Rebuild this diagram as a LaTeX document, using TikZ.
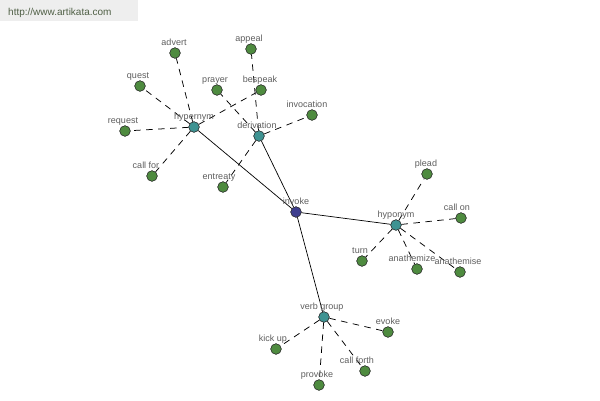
\documentclass[tikz,border=0pt]{standalone}
\usepackage{fontspec}
\setmainfont{Liberation Sans}
\begin{document}
\begin{tikzpicture}[x=1pt,y=-1pt,
  leaf/.style={circle,draw=black!80,fill=leafgreen,line width=0.5pt,minimum size=10.5pt,inner sep=0pt},
  hub/.style={circle,draw=black!80,fill=hubteal,line width=0.5pt,minimum size=10.5pt,inner sep=0pt},
  root/.style={circle,draw=black!80,fill=rootblue,line width=0.5pt,minimum size=10.5pt,inner sep=0pt},
  lbl/.style={anchor=base,inner sep=0pt,text=labelgray,font=\fontsize{9}{10}\selectfont},
  solidedge/.style={draw=black,line width=0.7pt},
  dashedge/.style={draw=black,line width=0.75pt,dash pattern=on 6.5pt off 5.5pt}]
\definecolor{leafgreen}{HTML}{4E8B3F}
\definecolor{hubteal}{HTML}{3E9392}
\definecolor{rootblue}{HTML}{3D3D8E}
\definecolor{labelgray}{HTML}{5E5E5E}
\definecolor{wmgray}{HTML}{EEEEEE}
\definecolor{wmtext}{HTML}{4F5F45}
\useasboundingbox (0,0) rectangle (600,400);
\fill[white] (0,0) rectangle (600,400);
\fill[wmgray] (0,0) rectangle (138,21);
\node[anchor=base west,inner sep=0pt,text=wmtext,font=\fontsize{10}{12}\selectfont] (wm) at (8,15) {http://www.artikata.com};

% nodes
\node[root] (invoke) at (296,212) {};
\node[hub] (hyper) at (194,127) {};
\node[hub] (deriv) at (259,136) {};
\node[hub] (hypo) at (396,225) {};
\node[hub] (vg) at (324,317) {};

\node[leaf] (advert) at (175,53) {};
\node[leaf] (appeal) at (251,49) {};
\node[leaf] (quest) at (140,86) {};
\node[leaf] (prayer) at (217,90) {};
\node[leaf] (bespeak) at (261,90) {};
\node[leaf] (invocation) at (312,115) {};
\node[leaf] (request) at (125,131) {};
\node[leaf] (callfor) at (152,176) {};
\node[leaf] (entreaty) at (223,187) {};
\node[leaf] (plead) at (427,174) {};
\node[leaf] (callon) at (461,218) {};
\node[leaf] (turn) at (362,261) {};
\node[leaf] (anathemize) at (417,269) {};
\node[leaf] (anathemise) at (460,272) {};
\node[leaf] (evoke) at (388,332) {};
\node[leaf] (kickup) at (276,349) {};
\node[leaf] (callforth) at (365,371) {};
\node[leaf] (provoke) at (319,385) {};

% edges
\path[solidedge] (invoke) -- (hyper) (invoke) -- (deriv) (invoke) -- (hypo) (invoke) -- (vg);
\path[dashedge] (hyper) -- (advert) (hyper) -- (quest) (hyper) -- (request) (hyper) -- (callfor) (hyper) -- (bespeak);
\path[dashedge] (deriv) -- (appeal) (deriv) -- (prayer) (deriv) -- (invocation) (deriv) -- (entreaty);
\path[dashedge] (hypo) -- (plead) (hypo) -- (callon) (hypo) -- (turn) (hypo) -- (anathemize) (hypo) -- (anathemise);
\path[dashedge] (vg) -- (evoke) (vg) -- (kickup) (vg) -- (callforth) (vg) -- (provoke);

% redraw nodes on top of edges
\node[root] at (invoke) {};
\foreach \n in {hyper,deriv,hypo,vg}
  \node[hub] at (\n) {};
\foreach \n in {advert,appeal,quest,prayer,bespeak,invocation,request,callfor,entreaty,plead,callon,turn,anathemize,anathemise,evoke,kickup,callforth,provoke}
  \node[leaf] at (\n) {};

% labels
\node[lbl] (l-invoke) at (296,204) {invoke};
\node[lbl] (l-hyper) at (194,119) {hypernym};
\node[lbl] (l-deriv) at (257,128) {derivation};
\node[lbl] (l-hypo) at (396,217) {hyponym};
\node[lbl] (l-vg) at (322,309) {verb group};
\node[lbl] (l-advert) at (174,45) {advert};
\node[lbl] (l-appeal) at (249,41) {appeal};
\node[lbl] (l-quest) at (138,78) {quest};
\node[lbl] (l-prayer) at (215,82) {prayer};
\node[lbl] (l-bespeak) at (260,82) {bespeak};
\node[lbl] (l-invocation) at (307,107) {invocation};
\node[lbl] (l-request) at (123,123) {request};
\node[lbl] (l-callfor) at (146,168) {call for};
\node[lbl] (l-entreaty) at (219,179) {entreaty};
\node[lbl] (l-plead) at (426,166) {plead};
\node[lbl] (l-callon) at (457,210) {call on};
\node[lbl] (l-turn) at (360,253) {turn};
\node[lbl] (l-anathemize) at (412,261) {anathemize};
\node[lbl] (l-anathemise) at (458,264) {anathemise};
\node[lbl] (l-evoke) at (388,324) {evoke};
\node[lbl] (l-kickup) at (273,341) {kick up};
\node[lbl] (l-callforth) at (357,363) {call forth};
\node[lbl] (l-provoke) at (317,377) {provoke};
\end{tikzpicture}
\end{document}
